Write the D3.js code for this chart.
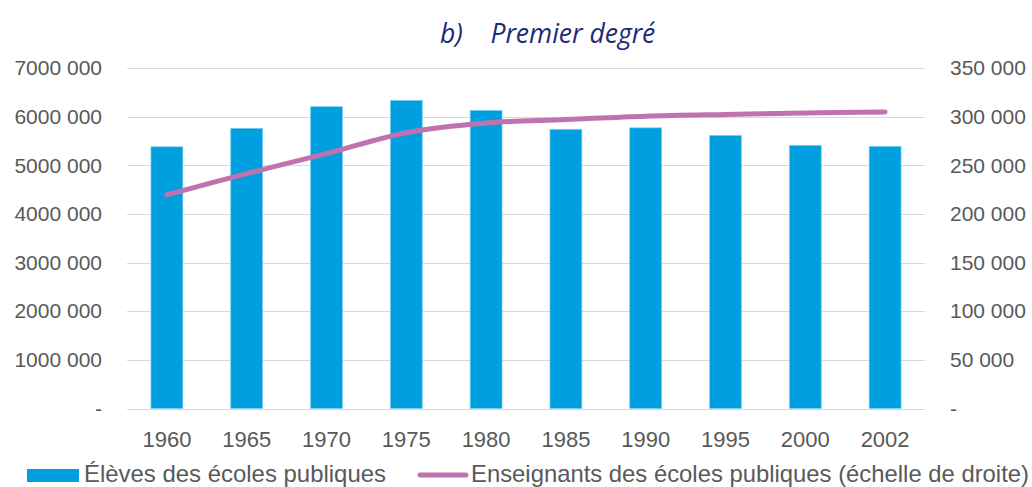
<!DOCTYPE html>
<html>
  <head>
    <meta charset="utf-8">
    <title>Premier degré</title>
    <script src="https://d3js.org/d3.v7.min.js"></script>
    <style>
      body { margin: 0; background: white; }
      text { font-family: "Liberation Sans", Arial, sans-serif; fill: #595959; }
      .title { font-family: "Open Sans", sans-serif; font-style: italic; fill: #1e2a78; font-size: 26.5px; }
      .grid line { stroke: #d9d9d9; stroke-width: 1; }
      .bar { fill: #00a0e0; stroke: #7fd0f0; stroke-width: 0.7; }
      .teachers { fill: none; stroke: #bf72ae; stroke-width: 5; stroke-linecap: round; }
    </style>
  </head>
  <body>
    <svg id="chart" width="1032" height="487"></svg>
    <script>
      // chart data
      var years = ["1960", "1965", "1970", "1975", "1980", "1985", "1990", "1995", "2000", "2002"];
      var pupils = [5380000, 5760000, 6205000, 6335000, 6130000, 5740000, 5770000, 5615000, 5410000, 5390000];
      var teachers = [219500, 241500, 262000, 283500, 293500, 297000, 300500, 302300, 303700, 304700];
      var leftTicks = [0, 1000000, 2000000, 3000000, 4000000, 5000000, 6000000, 7000000];
      var leftLabels = ["-", "1000 000", "2000 000", "3000 000", "4000 000", "5000 000", "6000 000", "7000 000"];
      var rightTicks = [0, 50000, 100000, 150000, 200000, 250000, 300000, 350000];
      var rightLabels = ["-", "50 000", "100 000", "150 000", "200 000", "250 000", "300 000", "350 000"];

      var svg = d3.select("#chart");
      var margin = { left: 127, right: 107, top: 68, bottom: 78 };
      var width = 1032, height = 487;

      var x = d3.scaleBand()
        .domain(years)
        .range([margin.left, width - margin.right])
        .paddingInner(0.6)
        .paddingOuter(0.3);
      var yL = d3.scaleLinear().domain([0, 7000000]).range([height - margin.bottom - 0.5, margin.top]);
      var yR = d3.scaleLinear().domain([0, 350000]).range([height - margin.bottom - 0.5, margin.top]);

      // title
      svg.append("text")
        .attr("class", "title")
        .attr("x", 440)
        .attr("y", 43)
        .text("b)\u00a0\u00a0\u00a0 Premier degré");

      // gridlines
      svg.append("g")
        .attr("class", "grid")
        .selectAll("line")
          .data(leftTicks)
        .enter().append("line")
          .attr("x1", margin.left)
          .attr("x2", width - margin.right)
          .attr("y1", function(d) { return Math.round(yL(d)) + 0.5; })
          .attr("y2", function(d) { return Math.round(yL(d)) + 0.5; });

      function styleTicks(g, size) {
        g.select(".domain").remove();
        g.selectAll("text")
          .style("font-size", size)
          .style("fill", "#595959")
          .style("font-family", "Liberation Sans, Arial, sans-serif");
      }

      // left axis
      var leftAxis = d3.axisLeft(yL)
        .tickValues(leftTicks)
        .tickSize(0)
        .tickPadding(25)
        .tickFormat(function(d, i) { return leftLabels[i]; });
      svg.append("g")
        .attr("transform", "translate(" + margin.left + ",0)")
        .call(leftAxis)
        .call(styleTicks, "21px");

      // right axis
      var rightAxis = d3.axisRight(yR)
        .tickValues(rightTicks)
        .tickSize(0)
        .tickPadding(25)
        .tickFormat(function(d, i) { return rightLabels[i]; });
      svg.append("g")
        .attr("transform", "translate(" + (width - margin.right) + ",0)")
        .call(rightAxis)
        .call(styleTicks, "21px");

      // bottom axis
      var xAxis = d3.axisBottom(x).tickSize(0).tickPadding(22);
      svg.append("g")
        .attr("transform", "translate(0," + (height - margin.bottom) + ")")
        .call(xAxis)
        .call(styleTicks, "22px");

      // bars
      svg.append("g")
        .selectAll(".bar")
          .data(pupils)
        .enter().append("rect")
          .attr("class", "bar")
          .attr("x", function(d, i) { return x(years[i]); })
          .attr("width", x.bandwidth())
          .attr("y", function(d) { return yL(d); })
          .attr("height", function(d) { return yL(0) - yL(d); });

      // teachers line (right scale)
      var line = d3.line()
        .x(function(d, i) { return x(years[i]) + x.bandwidth() / 2; })
        .y(function(d) { return yR(d); })
        .curve(d3.curveCatmullRom);
      svg.append("path")
        .datum(teachers)
        .attr("class", "teachers")
        .attr("d", line);

      // legend
      var legend = svg.append("g").attr("transform", "translate(0,482)");
      legend.append("rect")
        .attr("x", 27).attr("y", -13).attr("width", 52).attr("height", 13)
        .attr("fill", "#00a0e0");
      legend.append("text")
        .attr("x", 84).attr("y", 0)
        .attr("textLength", 302)
        .attr("lengthAdjust", "spacingAndGlyphs")
        .style("font-size", "24px")
        .text("Élèves des écoles publiques");
      legend.append("line")
        .attr("class", "teachers")
        .attr("x1", 420).attr("x2", 466).attr("y1", -7).attr("y2", -7);
      legend.append("text")
        .attr("x", 471).attr("y", 0)
        .attr("textLength", 558)
        .attr("lengthAdjust", "spacingAndGlyphs")
        .style("font-size", "24px")
        .text("Enseignants des écoles publiques (échelle de droite)");
    </script>
  </body>
</html>
